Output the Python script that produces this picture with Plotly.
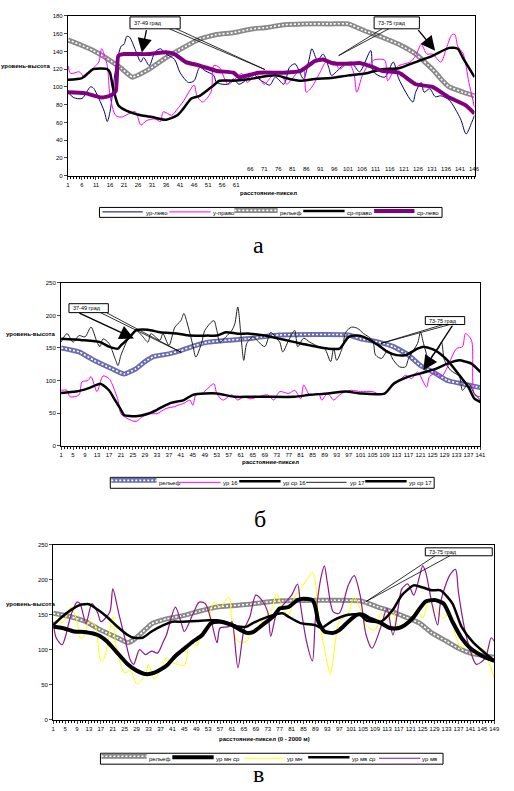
import plotly.graph_objects as go

W, H = 514, 791
def PX(x): return x / W
def PY(y): return 1 - y / H

FONT = "Liberation Sans, Arial, sans-serif"

# ---------------- panel а ----------------
a_xticks = [1, 6, 11, 16, 21, 26, 31, 36, 41, 46, 51, 56, 61]
a_raised_ticks = [66, 71, 76, 81, 86, 91, 96, 101, 106, 111, 116, 121, 126, 131, 136, 141, 146, 151]
a_names = ["ур-лево", "у-право", "рельеф", "ср-право", "ср-лево"]

a_relief = [(1,153),(5,148),(10,141),(15,132),(20,121),(24,111),(30,120),(36,133),(42,144),(48,154),(54,159),(60,161),(66,165),(72,167),(78,170),(85,171),(95,171),(101,171),(107,163),(113,156),(119,148),(125,137),(131,120),(134,109),(137,100),(142,94),(146,90)]
a_navy = [(1,94),(3,88),(6,87),(9,100),(10,99),(12,87),(14,72),(15,61),(16,72),(18,120),(20,146),(21,148),(22,157),(23,156),(25,142),(27,128),(28,133),(30,124),(32,139),(34,143),(36,137),(39,131),(41,116),(44,105),(46,107),(48,122),(50,118),(53,113),(54,105),(58,103),(60,109),(62,103),(65,109),(67,115),(69,109),(71,105),(73,102),(75,111),(78,103),(80,122),(82,126),(85,109),(87,131),(88,143),(90,130),(92,137),(94,122),(95,113),(99,124),(102,128),(105,117),(109,141),(110,117),(114,111),(117,128),(119,109),(124,83),(125,94),(127,105),(128,94),(130,98),(132,89),(134,90),(137,85),(141,64),(143,47),(145,60),(146,68)]
a_magenta = [(1,124),(2,115),(5,117),(7,111),(9,118),(12,128),(13,143),(15,124),(16,90),(18,68),(20,66),(25,72),(27,57),(29,62),(32,64),(34,61),(35,72),(38,68),(40,75),(42,83),(46,102),(47,90),(49,83),(52,94),(53,124),(55,122),(58,103),(60,107),(63,115),(65,105),(68,115),(71,103),(74,113),(76,113),(78,109),(79,103),(83,117),(85,122),(86,94),(88,100),(91,117),(93,128),(96,128),(98,120),(101,128),(103,115),(104,94),(106,113),(108,124),(110,130),(111,131),(114,130),(115,107),(117,117),(119,124),(123,128),(125,135),(127,148),(129,137),(131,137),(134,128),(136,144),(138,159),(139,159),(140,146),(142,137),(144,105),(146,77)]
a_black = [(1,108),(6,110),(8,115),(10,120),(15,120),(16,116),(17,100),(19,79),(22,73),(27,68),(31,66),(36,63),(40,68),(42,75),(45,87),(48,90),(53,102),(55,107),(60,107),(66,109),(75,113),(80,109),(84,107),(89,109),(95,110),(101,113),(107,115),(113,120),(119,121),(125,128),(131,135),(137,144),(140,143),(142,132),(146,111)]
a_purple = [(1,94),(7,93),(13,88),(16,90),(18,95),(19,135),(21,137),(25,137),(30,137),(36,139),(39,137),(43,128),(48,124),(54,118),(60,116),(62,111),(69,116),(78,116),(84,118),(89,129),(92,131),(95,127),(101,126),(105,127),(110,122),(113,118),(119,116),(125,103),(131,100),(137,88),(143,79),(146,70)]

# ---------------- panel б ----------------
b_xticks = list(range(1, 142, 4))
b_extra_ticks = [145, 149]
b_names = ["рельеф", "ур 16", "ур ср 16", "ур 17", "ур ср 17"]

b_relief = [(1,150),(7,144),(12,131),(18,118),(22,110),(26,118),(29,129),(32,137),(37,141),(41,146),(46,154),(50,159),(57,162),(63,164),(68,167),(74,170),(97,170),(101,164),(107,159),(112,152),(117,139),(121,123),(126,111),(130,100),(135,95),(139,91),(141,89)]
b_ur16 = [(1,85),(3,85),(4,75),(7,78),(8,98),(10,100),(11,106),(13,83),(15,107),(17,103),(18,95),(20,70),(21,49),(23,42),(26,37),(28,44),(31,49),(33,49),(36,57),(39,60),(40,62),(42,65),(44,70),(45,62),(46,78),(48,80),(50,88),(52,95),(53,80),(55,70),(58,78),(60,70),(62,75),(64,72),(67,75),(70,78),(72,70),(74,83),(77,80),(79,85),(81,72),(82,93),(84,78),(87,80),(88,70),(90,80),(92,70),(94,78),(96,83),(98,85),(101,83),(105,83),(108,78),(111,90),(114,100),(116,108),(118,103),(120,113),(123,90),(124,106),(126,111),(128,106),(130,121),(133,149),(135,152),(136,172),(138,162),(139,78),(141,75)]
b_ursr16 = [(1,81),(6,83),(10,88),(14,95),(15,93),(17,85),(19,70),(21,55),(22,47),(26,45),(30,49),(33,55),(35,60),(38,66),(42,70),(45,78),(49,80),(53,80),(59,75),(64,75),(69,75),(79,75),(84,78),(90,80),(96,83),(101,80),(109,80),(112,95),(117,106),(121,111),(126,118),(130,126),(134,131),(136,129),(138,126),(141,113)]
b_ur17 = [(1,159),(3,172),(5,159),(7,169),(9,167),(11,182),(13,159),(14,152),(15,164),(17,157),(19,134),(20,123),(21,139),(24,169),(26,177),(28,169),(30,159),(31,172),(34,162),(35,172),(37,154),(39,182),(41,192),(42,203),(43,190),(45,154),(46,136),(48,159),(49,177),(52,192),(53,177),(54,159),(56,167),(58,177),(59,187),(60,213),(61,172),(62,131),(63,157),(65,167),(67,159),(69,152),(71,174),(73,164),(74,159),(75,144),(77,162),(79,177),(80,152),(82,165),(84,159),(87,152),(89,149),(91,129),(92,150),(93,131),(95,152),(96,174),(98,182),(100,180),(102,172),(105,162),(106,139),(108,134),(110,146),(112,131),(114,121),(116,121),(117,134),(120,157),(121,174),(122,157),(124,129),(125,139),(127,149),(128,159),(129,131),(131,116),(134,106),(135,85),(137,95),(139,80),(141,70)]
b_ursr17 = [(1,164),(8,162),(14,159),(17,152),(20,149),(21,154),(24,167),(26,177),(30,178),(34,174),(40,172),(44,169),(50,169),(53,169),(56,174),(60,172),(64,172),(69,169),(71,167),(79,159),(84,154),(90,149),(94,149),(97,167),(100,169),(102,167),(107,154),(110,144),(113,139),(116,139),(120,149),(122,152),(126,146),(130,131),(134,108),(137,90),(139,72),(141,67)]

# ---------------- panel в ----------------
c_xticks = list(range(1, 150, 4))
c_names = ["рельеф", "ур мн ср", "ур мн", "ур мв ср", "ур мв"]

c_relief = [(1,152),(7,147),(12,140),(17,128),(23,116),(26,110),(28,114),(31,125),(34,137),(39,144),(45,149),(50,155),(56,161),(61,163),(67,165),(72,168),(78,170),(104,170),(110,161),(115,154),(119,147),(124,138),(128,124),(133,112),(137,102),(141,95),(146,91),(149,89)]
c_mn_sr = [(1,133),(5,130),(8,126),(12,125),(16,121),(19,112),(22,98),(26,79),(29,70),(32,65),(35,67),(39,77),(42,91),(44,98),(48,112),(51,121),(54,138),(57,140),(61,135),(64,128),(66,124),(68,125),(72,138),(75,148),(77,159),(80,161),(83,171),(85,173),(88,171),(89,161),(90,140),(92,126),(95,124),(97,128),(100,140),(103,150),(105,150),(107,145),(111,138),(114,131),(117,131),(119,135),(122,147),(124,159),(126,169),(129,171),(132,166),(135,140),(138,117),(141,102),(145,91),(149,84)]
c_mn = [(1,138),(2,142),(4,138),(7,161),(9,140),(10,117),(11,117),(13,140),(15,135),(17,84),(18,86),(21,147),(22,107),(25,67),(27,70),(29,51),(32,65),(33,79),(35,58),(37,70),(39,88),(41,81),(43,79),(45,77),(47,112),(49,105),(51,121),(53,135),(54,159),(55,168),(57,161),(60,175),(61,138),(63,112),(66,112),(67,121),(69,126),(72,147),(74,154),(76,180),(78,159),(80,150),(82,175),(84,187),(87,206),(88,211),(89,196),(90,150),(92,102),(94,65),(95,88),(97,140),(100,152),(102,175),(104,159),(106,135),(109,128),(111,152),(113,142),(115,154),(117,133),(119,138),(122,150),(123,157),(125,145),(127,168),(129,159),(132,145),(134,154),(136,121),(138,102),(140,112),(142,93),(145,102),(147,84),(149,60)]
c_mv_sr = [(1,135),(4,147),(7,157),(10,164),(13,165),(16,157),(19,147),(22,135),(26,121),(28,117),(31,117),(34,126),(38,135),(41,140),(44,140),(49,141),(53,142),(56,142),(60,138),(63,133),(66,133),(68,138),(73,147),(78,152),(80,147),(84,138),(89,135),(91,131),(95,142),(100,150),(104,150),(106,142),(111,140),(115,157),(118,178),(122,192),(125,189),(128,185),(131,185),(135,166),(138,133),(142,110),(149,84)]
c_mv = [(1,140),(2,117),(4,107),(5,117),(7,150),(9,168),(10,166),(12,138),(14,166),(16,152),(17,140),(20,154),(21,187),(23,152),(25,117),(27,84),(28,79),(30,100),(32,93),(34,98),(36,95),(38,112),(39,121),(42,161),(44,138),(45,126),(48,152),(50,168),(52,166),(54,142),(56,110),(57,131),(60,133),(61,140),(63,74),(65,128),(67,147),(69,178),(71,171),(73,154),(74,119),(76,152),(79,168),(81,178),(83,194),(84,164),(86,112),(88,84),(89,145),(91,206),(92,220),(93,196),(95,154),(97,152),(100,192),(102,206),(104,178),(106,121),(108,102),(111,133),(113,159),(115,121),(117,166),(118,187),(120,194),(122,178),(124,206),(125,220),(126,211),(128,168),(130,135),(131,168),(134,206),(136,215),(137,182),(139,131),(141,98),(143,79),(146,88),(148,117),(149,112)]

# series styles: (colour, width)
RELIEF_GRAY = "#8a8a8a"
RELIEF_BLUE = "#6b6bb0"
a_styles = [("#000080", 1), ("#ff00ff", 1), (RELIEF_GRAY, 5), ("#000000", 2.5), ("#800080", 4)]
b_styles = [(RELIEF_BLUE, 5), ("#ff00ff", 1), ("#000000", 2.5), ("#222222", 1), ("#000000", 2.5)]
c_styles = [(RELIEF_GRAY, 5), ("#000000", 4), ("#ffff00", 1), ("#000000", 2.5), ("#8b1a8b", 1.2)]

fig = go.Figure()

def add(ax, data, name, style, dash=None, smoothing=0.8, color=None, width=None):
    xs, ys = zip(*data)
    fig.add_trace(go.Scatter(
        x=list(xs), y=list(ys), mode="lines", name=name,
        line=dict(color=color or style[0], width=width or style[1], shape="spline",
                  smoothing=smoothing, dash=dash),
        xaxis="x" + ax, yaxis="y" + ax, showlegend=False, hoverinfo="skip"))

def relief(ax, data, name, style):
    add(ax, data, name, style, smoothing=0.4)
    add(ax, data, name, style, dash="2px,2px", smoothing=0.4, color="white", width=1.6)

# panel а traces
relief("", a_relief, a_names[2], a_styles[2])
add("", a_navy, a_names[0], a_styles[0])
add("", a_magenta, a_names[1], a_styles[1])
add("", a_black, a_names[3], a_styles[3], smoothing=0.6)
add("", a_purple, a_names[4], a_styles[4], smoothing=0.5)

# panel б traces
relief("2", b_relief, b_names[0], b_styles[0])
add("2", b_ur16, b_names[1], b_styles[1])
add("2", b_ur17, b_names[3], b_styles[3])
add("2", b_ursr16, b_names[2], b_styles[2], smoothing=0.6)
add("2", b_ursr17, b_names[4], b_styles[4], smoothing=0.6)

# panel в traces
relief("3", c_relief, c_names[0], c_styles[0])
add("3", c_mn, c_names[2], c_styles[2])
add("3", c_mv, c_names[4], c_styles[4])
add("3", c_mv_sr, c_names[3], c_styles[3], smoothing=0.6)
add("3", c_mn_sr, c_names[1], c_styles[1], smoothing=0.6)

tickfont = dict(size=6, family=FONT, color="#000")

def xax(dom, rng, tickvals, anchor):
    return dict(domain=dom, range=rng, tickvals=tickvals, ticks="outside", ticklen=3, tickangle=0,
                tickfont=tickfont, showline=True, linecolor="#000", linewidth=1.2,
                mirror=True, showgrid=False, zeroline=False, anchor=anchor,
                minor=dict(ticks="outside", ticklen=2, dtick=1, tick0=1, tickcolor="#000"))

def yax(dom, rng, dtick, anchor):
    return dict(domain=dom, range=rng, dtick=dtick, ticks="outside", ticklen=3,
                tickfont=tickfont, showline=True, linecolor="#000", linewidth=1.2,
                mirror=True, showgrid=False, zeroline=False, anchor=anchor)

fig.update_layout(
    width=W, height=H, autosize=False, margin=dict(l=0, r=0, t=0, b=0),
    paper_bgcolor="white", plot_bgcolor="white",
    font=dict(family=FONT, size=6, color="#000"),
    xaxis=xax([PX(67), PX(480)], [1, 146], a_xticks, "y"),
    yaxis=yax([PY(174), PY(13)], [0, 180], 20, "x"),
    xaxis2=xax([PX(60), PX(486)], [1, 141], b_xticks, "y2"),
    yaxis2=yax([PY(446), PY(282)], [0, 250], 50, "x2"),
    xaxis3=xax([PX(52), PX(500)], [1, 149], c_xticks, "y3"),
    yaxis3=yax([PY(722), PY(546)], [0, 250], 50, "x3"),
    showlegend=False,
)

ann = []
shapes = []

def label(x, y, text, size=6, anchor="center", bold=False, family=FONT):
    ann.append(dict(x=PX(x), y=PY(y), xref="paper", yref="paper", text=("<b>%s</b>" % text) if bold else text,
                    showarrow=False, xanchor=anchor, yanchor="middle",
                    font=dict(size=size, family=family, color="#000")))

def box(x0, y0, x1, y1, text=None):
    shapes.append(dict(type="rect", xref="paper", yref="paper", x0=PX(x0), x1=PX(x1), y0=PY(y1), y1=PY(y0),
                       line=dict(color="#000", width=1), fillcolor="white", layer="above"))
    if text:
        label(x0 + 2, (y0 + y1) / 2, text, size=5.5, anchor="left")

def wedge(p1, apex, p2):
    path = "M %f %f L %f %f L %f %f" % (PX(p1[0]), PY(p1[1]), PX(apex[0]), PY(apex[1]), PX(p2[0]), PY(p2[1]))
    shapes.append(dict(type="path", xref="paper", yref="paper", path=path, line=dict(color="#000", width=0.8)))

def arrow(tail, head, width=1.3, size=2.2):
    ann.append(dict(x=PX(head[0]), y=PY(head[1]), xref="paper", yref="paper", text="",
                    showarrow=True, ax=tail[0] - head[0], ay=tail[1] - head[1], axref="pixel", ayref="pixel",
                    arrowhead=2, arrowsize=size, arrowwidth=width, arrowcolor="#000", standoff=0))

def seg(x0, x1, y, color, width, dash=None):
    shapes.append(dict(type="line", xref="paper", yref="paper", x0=PX(x0), x1=PX(x1), y0=PY(y), y1=PY(y),
                       line=dict(color=color, width=width, dash=dash), layer="above"))

def legend(frame, entries, names, styles, relief_idx):
    box(*frame)
    for i, ((x0, x1, ly, tx, ty), name, st) in enumerate(zip(entries, names, styles)):
        seg(x0, x1, ly, st[0], st[1])
        if i == relief_idx:
            seg(x0, x1, ly, "white", 1.6, dash="2px,2px")
        label(tx, ty, name, anchor="left")

# axis titles (horizontal text)
label(51, 63, "уровень-высота", bold=True, anchor="right")
label(271, 191.5, "расстояние-пиксел", bold=True)
label(29, 334, "уровень-высота", bold=True)
label(273, 463, "расстояние-пиксел", bold=True)
label(29, 606, "уровень-высота", bold=True)
label(267, 741.5, "расстояние-пиксел (0 - 2000 м)", bold=True)

# raised tick labels of panel а
for t in a_raised_ticks:
    ann.append(dict(x=t, y=7, xref="x", yref="y", text=str(t), showarrow=False,
                    font=tickfont, xanchor="center", yanchor="middle"))
for t in b_extra_ticks:
    ann.append(dict(x=t, y=PY(452), xref="x2", yref="paper", text=str(t), showarrow=False,
                    font=tickfont, xanchor="center", yanchor="middle"))

# panel letters
SERIF = "Liberation Serif, Times New Roman, serif"
label(261, 244, "а", size=24, family=SERIF)
label(262, 520, "б", size=24, family=SERIF)
label(261, 777, "в", size=24, family=SERIF)

# callouts panel а
wedge((170, 26), (267, 67), (177, 26))
arrow((147, 26), (142, 50))
box(130, 14, 181, 26, "37-49 град")
wedge((386, 26), (342, 53), (393, 26))
arrow((422, 26), (440, 48))
box(378, 14, 424, 26, "73-75 град")

# callouts panel б
wedge((100, 312), (182, 352), (106, 312))
arrow((78, 312), (134, 338))
box(68, 303, 108, 312, "37-49 град")
wedge((448, 324), (385, 343), (455, 324))
arrow((458, 324), (428, 370))
box(430, 316, 470, 324, "73-75 град")

# callouts panel в
wedge((440, 557), (370, 603), (455, 557))
box(430, 549, 498, 557, "73-75 град")

# legends (frame, then per entry: sample x0, x1, sample y, text x, text y)
legend((99, 206, 447, 216),
       [(102, 143, 210.5, 144, 211.5), (170, 212, 210.5, 212, 211.5), (236, 280, 209, 280, 211.5),
        (306, 348, 209.5, 348, 211.5), (378, 419, 209.5, 420, 211.5)],
       a_names, a_styles, 2)
legend((110, 478, 439, 489),
       [(111, 157, 481, 157, 484), (181, 222, 483, 222, 484), (241, 283, 482, 283, 484),
        (309, 350, 483, 351, 484), (369, 411, 482, 411, 484)],
       b_names, b_styles, 0)
legend((100, 756, 448, 767),
       [(101, 147, 759, 147, 762), (173, 215, 760, 215, 762), (246, 287, 761, 287, 762),
        (311, 353, 760, 353, 762), (383, 425, 761, 425, 762)],
       c_names, c_styles, 0)

fig.update_layout(annotations=ann, shapes=shapes)
fig.write_html("out.html", config={"displayModeBar": False},
               post_script="document.body.style.margin='0';")
